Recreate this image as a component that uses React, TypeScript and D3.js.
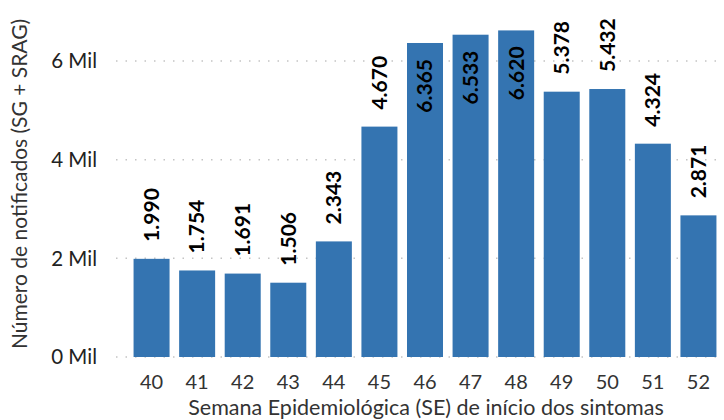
import React from "react"
import * as d3 from "d3"

const weeks = ["40", "41", "42", "43", "44", "45", "46", "47", "48", "49", "50", "51", "52"]
const notified = [1990, 1754, 1691, 1506, 2343, 4670, 6365, 6533, 6620, 5378, 5432, 4324, 2871]
const yTicks = [0, 2000, 4000, 6000]

const W = 724
const H = 420
const FONT = "Lato, 'Open Sans', sans-serif"
const BAR = "#3474b1"

const fmt = (v: number) => d3.format(",")(v).replace(/,/g, ".")

const App: React.FC = () => {
	const x = d3.scaleBand().domain(weeks).range([129, 721]).paddingInner(0.21).paddingOuter(0.1)
	const y = d3.scaleLinear().domain([0, 6000]).range([357, 61])
	const labelSize = 21

	return (
		<svg width={W} height={H} style={{ position: "absolute", left: 0, top: 0, background: "#fff" }}>
			{yTicks.map((t) => (
				<g key={t}>
					<line
						x1={116}
						x2={721}
						y1={y(t)}
						y2={y(t)}
						stroke="#c4c4c4"
						strokeWidth={1.5}
						strokeDasharray="1.5,8"
					/>
					<text
						x={97}
						y={y(t)}
						dy="0.35em"
						textAnchor="end"
						fontFamily={FONT}
						fontSize={20.5}
						fill="#222">
						{t / 1000} Mil
					</text>
				</g>
			))}
			{weeks.map((w, i) => {
				const v = notified[i]
				const bx = x(w)!
				const top = y(v)
				const cx = bx + x.bandwidth() / 2
				const label = fmt(v)
				// rough text length estimate to decide inside/outside
				const inside = top - 17 - label.length * 10 < 5
				const ty = inside ? top + 16 : top - 17
				return (
					<g key={w}>
						<rect x={bx} y={top} width={x.bandwidth()} height={y(0) - top} fill={BAR} />
						<text
							transform={`translate(${cx},${ty}) rotate(-90)`}
							dy="0.35em"
							textAnchor={inside ? "end" : "start"}
							fontFamily={FONT}
							fontWeight="bold"
							fontSize={labelSize}
							fill="#000">
							{label}
						</text>
						<text
							x={cx}
							y={382}
							dy="0.35em"
							textAnchor="middle"
							fontFamily={FONT}
							fontSize={20}
							fill="#333">
							{w}
						</text>
					</g>
				)
			})}
			<text
				x={426}
				y={407}
				dy="0.35em"
				textAnchor="middle"
				fontFamily={FONT}
				fontSize={21.5}
				fill="#333">
				Semana Epidemiológica (SE) de início dos sintomas
			</text>
			<text
				transform={`translate(20,184) rotate(-90)`}
				dy="0.35em"
				textAnchor="middle"
				fontFamily={FONT}
				fontSize={21}
				fill="#333">
				Número de notificados (SG + SRAG)
			</text>
		</svg>
	)
}

export default App
